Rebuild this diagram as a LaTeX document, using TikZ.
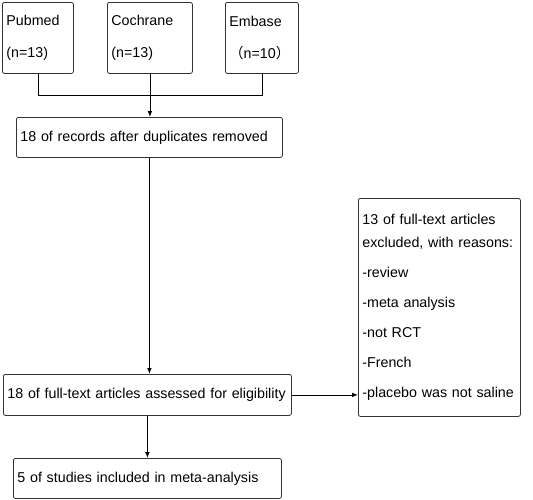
\documentclass[tikz,border=0pt]{standalone}
\usepackage{fontspec}
\setmainfont{Liberation Sans}
\newfontfamily\cjk{Noto Sans CJK SC}
\usetikzlibrary{arrows.meta}

\begin{document}
\begin{tikzpicture}[x=0.75pt,y=0.75pt,yscale=-1,xscale=1,
	box/.style={draw=black!80, line width=0.6pt, rounded corners=1.5pt, anchor=north west, inner xsep=3pt, inner ysep=0pt, align=left, font=\fontsize{10.7}{13}\selectfont},
	arr/.style={-{Latex[length=4.5pt,width=3.5pt]}, line width=0.6pt}]
	\useasboundingbox (0,0) rectangle (533,500);

	\node [box, minimum width=53.25pt, minimum height=53.25pt, text width=47.25pt] (pubmed) at (2,2) {Pubmed\\[11pt](n=13)};
	\node [box, minimum width=63.75pt, minimum height=53.25pt, text width=57.75pt] (cochrane) at (107,2) {Cochrane\\[11pt](n=13)};
	\node [box, minimum width=54.75pt, minimum height=53.25pt, text width=48.75pt] (embase) at (225,2) {Embase\\[11pt]{\cjk （}n=10{\cjk ）}};
	\node [box, minimum width=199.5pt, minimum height=30pt, text width=193.5pt] (records) at (16,117) {18 of records after duplicates removed};
	\node [box, minimum width=216pt, minimum height=30.75pt, text width=210pt] (fulltext) at (3,374) {18 of full-text articles assessed for eligibility};
	\node [box, minimum width=201pt, minimum height=30pt, text width=195pt] (included) at (13,458) {5 of studies included in meta-analysis};
	\node [box, minimum width=121.5pt, minimum height=163.5pt, text width=115.5pt] (excluded) at (358,198) {13 of full-text articles\\[4pt]excluded, with reasons:\\[9.5pt]-review\\[9.5pt]-meta analysis\\[9.5pt]-not RCT\\[9.5pt]-French\\[9.5pt]-placebo was not saline};

	\coordinate (merge) at (150,95);
	\draw [line width=0.6pt] (pubmed.south) -- (pubmed.south |- merge) -- (embase.south |- merge) -- (embase.south);
	\draw [arr] (cochrane.south) -- (cochrane.south |- records.north);
	\draw [arr] (records.south) -- (records.south |- fulltext.north);
	\draw [arr] (fulltext.east) -- (fulltext.east -| excluded.west);
	\draw [arr] (fulltext.south) -- (fulltext.south |- included.north);
\end{tikzpicture}
\end{document}
